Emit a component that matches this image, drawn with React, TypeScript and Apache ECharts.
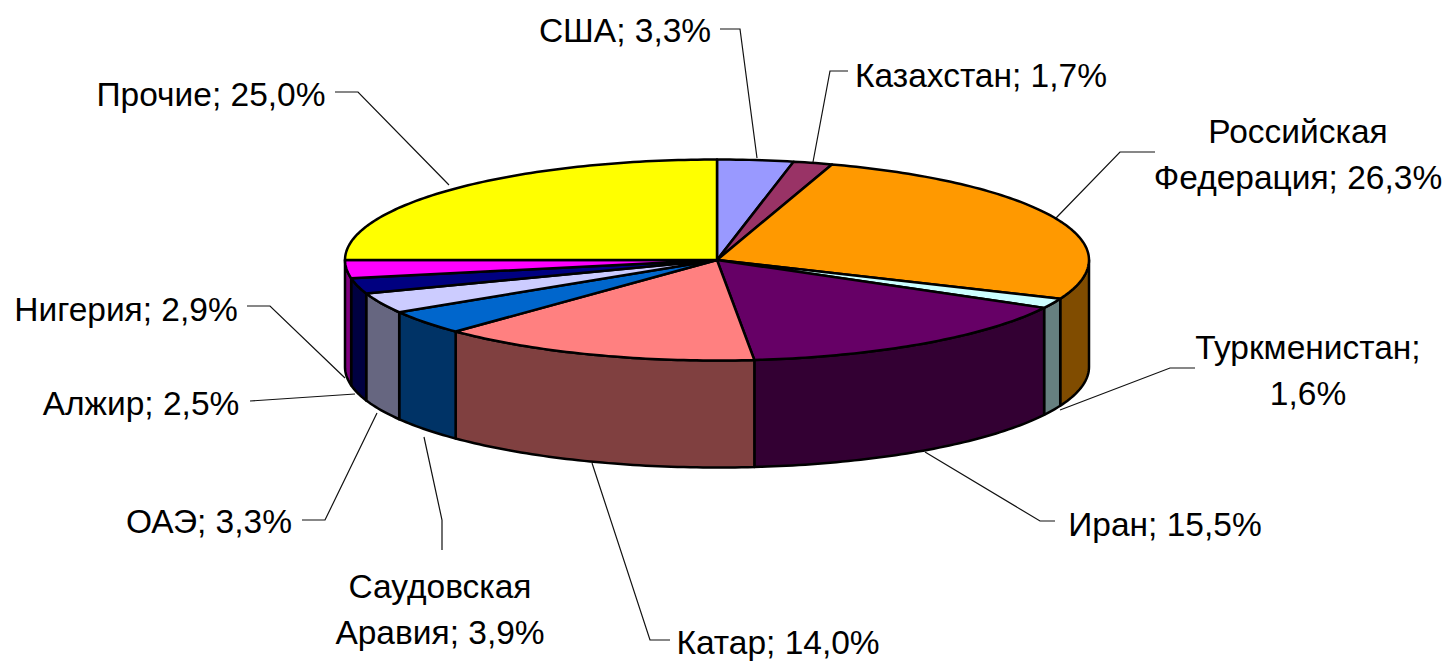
import React, { useEffect, useRef } from "react";
import * as echarts from "echarts";

const labels = [
  "США; 3,3%",
  "Казахстан; 1,7%",
  "Российская\nФедерация; 26,3%",
  "Туркменистан;\n1,6%",
  "Иран; 15,5%",
  "Катар; 14,0%",
  "Саудовская\nАравия; 3,9%",
  "ОАЭ; 3,3%",
  "Алжир; 2,5%",
  "Нигерия; 2,9%",
  "Прочие; 25,0%",
];
const values = [3.3, 1.7, 26.3, 1.6, 15.5, 14.0, 3.9, 3.3, 2.5, 2.9, 25.0];
const topColors = ["#9999FF", "#993366", "#FF9900", "#CCFFFF", "#660066", "#FF8080", "#0066CC", "#CCCCFF", "#000080", "#FF00FF", "#FFFF00"];
const wallColors = ["#4C4C80", "#4C1933", "#804C00", "#668080", "#330033", "#804040", "#003366", "#666680", "#000040", "#800080", "#808000"];

const CX = 717, CY = 260, RX = 372, RY = 100.5, DEPTH = 107;
const FONT = '33.5px "Liberation Sans", Arial, sans-serif';

// label anchor (text centre) and leader polyline, in page pixels
const labelAnchors = [
  [625, 30], [981, 75], [1298, 154], [1308, 370], [1165, 524], [778, 642], [440, 609], [209, 521], [141, 403], [126, 309], [211, 94],
];
const leaders = [
  [[720, 29], [740, 29], [757, 158]],
  [[848, 71], [830, 71], [813, 162]],
  [[1155, 152], [1120, 152], [1056, 218]],
  [[1195, 368], [1170, 368], [1060, 410]],
  [[1055, 521], [1040, 521], [925, 452]],
  [[670, 640], [650, 640], [592, 463]],
  [[442, 550], [442, 520], [424, 437]],
  [[302, 520], [325, 520], [377, 413]],
  [[250, 401], [355, 394]],
  [[247, 306], [270, 306], [345, 378]],
  [[335, 92], [358, 92], [449, 185]],
];

const total = values.reduce((a, b) => a + b, 0);
const startOf = (i: number) => values.slice(0, i).reduce((a, b) => a + b, 0) / total * 360;
const pt = (deg: number, dy = 0): number[] => {
  const r = (deg * Math.PI) / 180;
  return [CX + RX * Math.sin(r), CY - RY * Math.cos(r) + dy];
};
const arc = (a: number, b: number, dy = 0) => {
  const out: number[][] = [];
  const n = Math.max(2, Math.ceil(Math.abs(b - a)));
  for (let k = 0; k <= n; k++) out.push(pt(a + ((b - a) * k) / n, dy));
  return out;
};
const edge = { stroke: "#000", lineWidth: 2.5, lineJoin: "round" };

const renderWall = (params: any, api: any) => {
  const i = params.dataIndex;
  const a = startOf(i);
  const b = a + (api.value(0) / total) * 360;
  const from = Math.max(a, 90), to = Math.min(b, 270);
  if (to <= from) return { type: "group", children: [] };
  return {
    type: "polygon",
    shape: { points: [...arc(from, to), ...arc(to, from, DEPTH)] },
    style: { fill: wallColors[i], ...edge },
  };
};
const renderTop = (params: any, api: any) => {
  const i = params.dataIndex;
  const a = startOf(i);
  const b = a + (api.value(0) / total) * 360;
  return {
    type: "polygon",
    shape: { points: [[CX, CY], ...arc(a, b)] },
    style: { fill: topColors[i], ...edge },
  };
};
const renderLabel = (params: any) => {
  const i = params.dataIndex;
  return {
    type: "group",
    children: [
      { type: "polyline", shape: { points: leaders[i] }, style: { stroke: "#111", lineWidth: 1.2, fill: "none" } },
      {
        type: "text",
        style: {
          text: labels[i], x: labelAnchors[i][0], y: labelAnchors[i][1],
          align: "center", verticalAlign: "middle", font: FONT, lineHeight: 46, fill: "#000",
        },
      },
    ],
  };
};

export default function App() {
  const ref = useRef<HTMLDivElement>(null);
  useEffect(() => {
    const chart = echarts.init(ref.current!, undefined, { renderer: "svg" });
    chart.setOption({
      animation: false,
      backgroundColor: "#fff",
      series: [
        { type: "custom", coordinateSystem: "none", data: values, renderItem: renderWall, silent: true, z: 1 },
        { type: "custom", coordinateSystem: "none", data: values, renderItem: renderTop, silent: true, z: 2 },
        { type: "custom", coordinateSystem: "none", data: values, renderItem: renderLabel, silent: true, z: 3 },
      ],
    });
    return () => chart.dispose();
  }, []);
  return <div ref={ref} style={{ position: "absolute", left: 0, top: 0, width: 1451, height: 661 }} />;
}
